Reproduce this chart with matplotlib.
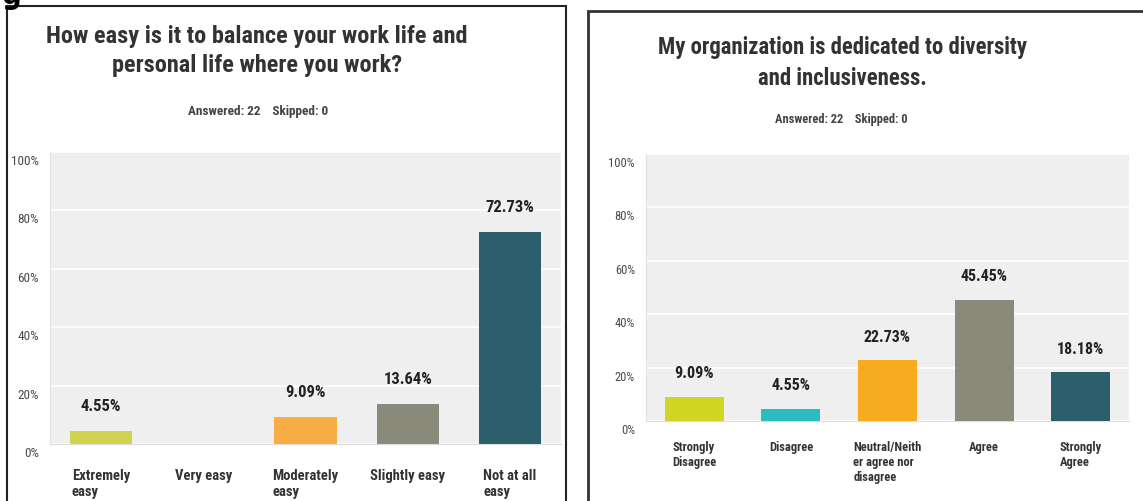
import matplotlib
matplotlib.use("Agg")
import matplotlib.pyplot as plt
import matplotlib.transforms as mtransforms
from matplotlib.patches import Rectangle
from matplotlib.ticker import FixedLocator

plt.rcParams['font.family'] = ['Roboto Condensed', 'DejaVu Sans']

# Work/life balance survey
balance_cats = ["Extremely\neasy", "Very easy", "Moderately\neasy", "Slightly easy", "Not at all\neasy"]
balance_vals = [4.55, 0.0, 9.09, 13.64, 72.73]
balance_cols = ["#cfd34e", "#2bbcc0", "#f8ad45", "#8a8a7a", "#2c5f6b"]

# Diversity survey
diversity_cats = ["Strongly\nDisagree", "Disagree", "Neutral/Neith\ner agree nor\ndisagree", "Agree", "Strongly\nAgree"]
diversity_vals = [9.09, 4.55, 22.73, 45.45, 18.18]
diversity_cols = ["#d2d521", "#2bbdbf", "#f6ac1e", "#8a8a7a", "#2c5e6b"]

yticks = [0, 20, 40, 60, 80, 100]
ytick_labels = ["0%", "20%", "40%", "60%", "80%", "100%"]

W, H = 1143, 502
fig = plt.figure(figsize=(W / 100, H / 100), dpi=100)
fig.patch.set_facecolor("white")


def px_axes(x0, y_top, x1, y_bot):
    return fig.add_axes([x0 / W, 1 - y_bot / H, (x1 - x0) / W, (y_bot - y_top) / H])


def draw_panel(ax, cats, vals, cols, tick_fs, cat_fs, cat_pad, val_fs, val_pad):
    x = range(len(vals))
    bars = ax.bar(x, vals, width=0.61, color=cols, zorder=3)
    ax.set_xlim(-0.5, len(vals) - 0.5)
    ax.set_ylim(0, 100)
    ax.set_facecolor("#efefef")
    ax.yaxis.set_major_locator(FixedLocator(yticks))
    ax.set_yticklabels(ytick_labels, fontsize=tick_fs, color="#4a4a4a")
    ax.grid(axis="y", color="white", linewidth=1.2, zorder=1)
    ax.tick_params(length=0, pad=8)
    ax.set_xticks([])
    for s in ["top", "right"]:
        ax.spines[s].set_visible(False)
    ax.spines["left"].set_color("#e2e2e2")
    ax.spines["bottom"].set_color("#dcdcdc")
    off = mtransforms.ScaledTranslation(0, -0.07, fig.dpi_scale_trans)
    for lab in ax.get_yticklabels():
        lab.set_transform(lab.get_transform() + off)
    for b, v in zip(bars, vals):
        if v <= 0:
            continue
        ax.annotate(f"{v:.2f}%", (b.get_x() + b.get_width() / 2, v),
                    xytext=(0, val_pad), textcoords="offset points",
                    ha="center", va="bottom", fontsize=val_fs,
                    fontweight="bold", color="#222222")
    for i, c in enumerate(cats):
        ax.annotate(c, (i, 0), xytext=(0, -cat_pad), textcoords="offset points",
                    ha="center", va="top", multialignment="left",
                    fontsize=cat_fs, fontweight="bold", color="#333333",
                    linespacing=1.2, annotation_clip=False)


ax1 = px_axes(50, 153, 561, 445)
draw_panel(ax1, balance_cats, balance_vals, balance_cols, 9.5, 10.5, 17, 12, 13)

ax2 = px_axes(646, 155, 1129, 422)
draw_panel(ax2, diversity_cats, diversity_vals, diversity_cols, 9, 9, 14, 11.5, 12)

# titles
fig.text(257 / W, 1 - 51 / H, "How easy is it to balance your work life and\npersonal life where you work?",
         ha="center", va="center", fontsize=17.5, fontweight="bold", color="#333333", linespacing=1.35)
fig.text(258 / W, 1 - 112 / H, "Answered: 22    Skipped: 0",
         ha="center", va="center", fontsize=9.5, fontweight="bold", color="#444444")
fig.text(842 / W, 1 - 63 / H, "My organization is dedicated to diversity\nand inclusiveness.",
         ha="center", va="center", fontsize=16.4, fontweight="bold", color="#333333", linespacing=1.4)
fig.text(841 / W, 1 - 120 / H, "Answered: 22    Skipped: 0",
         ha="center", va="center", fontsize=9, fontweight="bold", color="#444444")

# panel frames
fig.patches.append(Rectangle((7 / W, -0.05), (566 - 7) / W, 1 - 7 / H + 0.05,
                             transform=fig.transFigure, fill=False,
                             edgecolor="#222222", linewidth=1.5))
fig.patches.append(Rectangle((588 / W, -0.05), 1.0, 1 - 12 / H + 0.05,
                             transform=fig.transFigure, fill=False,
                             edgecolor="#333333", linewidth=2))

# caption fragment running off the top edge
fig.text(2 / W, 1 - 4 / H, "g", ha="left", va="baseline", fontsize=20,
         fontweight="bold", color="black", family="DejaVu Sans")

fig.savefig("out.png", dpi=100)
